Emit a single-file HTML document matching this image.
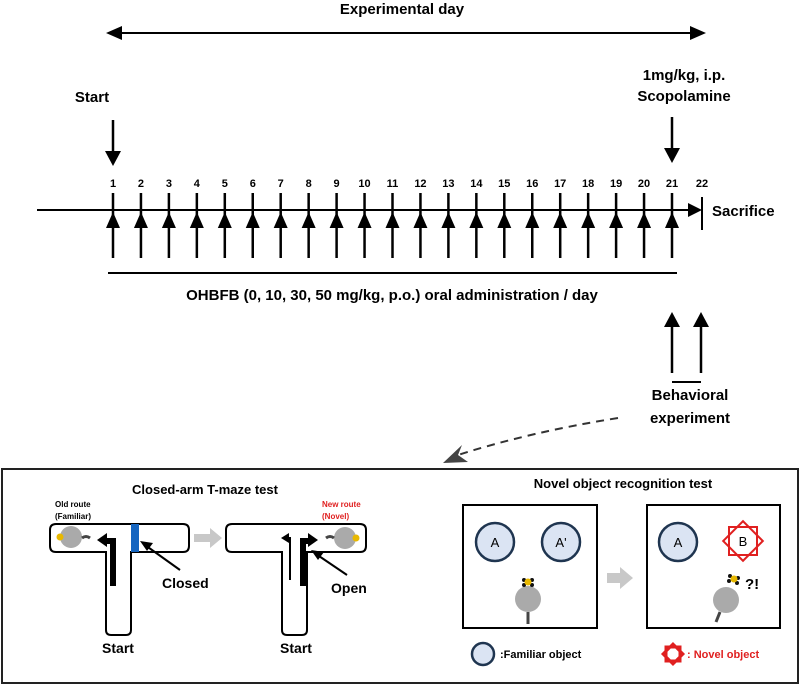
<!DOCTYPE html>
<html><head><style>
body{margin:0;background:#fff;}
svg{display:block;font-family:"Liberation Sans",Arial,sans-serif;font-weight:bold;}
</style></head><body>
<svg width="800" height="685" viewBox="0 0 800 685">
<!-- Experimental day -->
<text x="402" y="14" font-size="15" text-anchor="middle">Experimental day</text>
<line x1="118" y1="33" x2="694" y2="33" stroke="#000" stroke-width="2"/>
<path d="M106,33 L122,26 L122,40Z M706,33 L690,26 L690,40Z" fill="#000"/>
<text x="92" y="102" font-size="15" text-anchor="middle">Start</text>
<text x="684" y="80" font-size="15" text-anchor="middle">1mg/kg, i.p.</text>
<text x="684" y="101" font-size="15" text-anchor="middle">Scopolamine</text>
<line x1="113" y1="120" x2="113" y2="152" stroke="#000" stroke-width="2.5"/>
<path d="M105,151 L121,151 L113,166Z" fill="#000"/>
<line x1="672" y1="117" x2="672" y2="149" stroke="#000" stroke-width="2.5"/>
<path d="M664,148 L680,148 L672,163Z" fill="#000"/>
<!-- axis -->
<line x1="37" y1="210" x2="690" y2="210" stroke="#000" stroke-width="2"/>
<path d="M688,203 L702,210 L688,217Z" fill="#000"/>
<line x1="702" y1="197" x2="702" y2="230" stroke="#000" stroke-width="2"/>
<text x="712" y="216" font-size="15">Sacrifice</text>
<g id="ticks" font-size="11" text-anchor="middle"></g>
<line x1="108" y1="273" x2="677" y2="273" stroke="#000" stroke-width="2"/>
<text x="392" y="300" font-size="15" text-anchor="middle">OHBFB (0, 10, 30, 50 mg/kg, p.o.) oral administration / day</text>
<!-- behavioral -->
<line x1="672" y1="325" x2="672" y2="373" stroke="#000" stroke-width="2.5"/>
<path d="M664,327 L680,327 L672,312Z" fill="#000"/>
<line x1="701" y1="325" x2="701" y2="373" stroke="#000" stroke-width="2.5"/>
<path d="M693,327 L709,327 L701,312Z" fill="#000"/>
<line x1="672" y1="382" x2="701" y2="382" stroke="#000" stroke-width="2"/>
<text x="690" y="400" font-size="15" text-anchor="middle">Behavioral</text>
<text x="690" y="423" font-size="15" text-anchor="middle">experiment</text>
<path d="M618,418 Q530,432 458,455" fill="none" stroke="#333" stroke-width="2" stroke-dasharray="8,6"/>
<path d="M443,463 L462,445 L458,455 L468,462Z" fill="#444"/>
<!-- box -->
<rect x="2" y="469" width="796" height="214" fill="none" stroke="#222" stroke-width="2"/>
<text x="205" y="494" font-size="13" text-anchor="middle">Closed-arm T-maze test</text>
<text x="55" y="507" font-size="8">Old route</text>
<text x="55" y="519" font-size="8">(Familiar)</text>
<text x="322" y="507" font-size="8" fill="#e02020">New route</text>
<text x="322" y="519" font-size="8" fill="#e02020">(Novel)</text>
<path d="M56,524 H183 Q189,524 189,530 V546 Q189,552 183,552 H131 V630 Q131,635 126,635 H111 Q106,635 106,630 V552 H56 Q50,552 50,546 V530 Q50,524 56,524Z" fill="#fff" stroke="#000" stroke-width="2"/>
<rect x="131" y="524" width="8" height="28" fill="#1565c0"/>
<path d="M232,524 H360 Q366,524 366,530 V546 Q366,552 360,552 H307 V630 Q307,635 302,635 H287 Q282,635 282,630 V552 H232 Q226,552 226,546 V530 Q226,524 232,524Z" fill="#fff" stroke="#000" stroke-width="2"/>
<!-- T1 arrows -->
<path d="M113,586 V541 H104" fill="none" stroke="#000" stroke-width="6"/>
<path d="M107,533 L97,540 L107,547Z" fill="#000"/>
<line x1="180" y1="570" x2="145" y2="545" stroke="#000" stroke-width="2"/>
<path d="M140,541 L153,543 L147,551Z" fill="#000"/>
<text x="162" y="588" font-size="14">Closed</text>
<circle cx="71" cy="537" r="11" fill="#aaa"/>
<circle cx="60" cy="537" r="3.5" fill="#e8b800"/>
<path d="M82,538 q4,-3 8,0" stroke="#444" stroke-width="3" fill="none"/>
<text x="118" y="653" font-size="14" text-anchor="middle">Start</text>
<!-- T2 arrows -->
<path d="M303,586 V541 H310" fill="none" stroke="#000" stroke-width="6"/>
<path d="M308,533 L318,540 L308,547Z" fill="#000"/>
<path d="M290,580 V538 H286" fill="none" stroke="#000" stroke-width="2"/>
<path d="M289,533 L281,538 L289,543Z" fill="#000"/>
<line x1="347" y1="575" x2="316" y2="554" stroke="#000" stroke-width="2"/>
<path d="M311,550 L324,552 L318,560Z" fill="#000"/>
<text x="331" y="593" font-size="14">Open</text>
<circle cx="345" cy="538" r="11" fill="#aaa"/>
<circle cx="356" cy="538" r="3.5" fill="#e8b800"/>
<path d="M326,538 q4,-3 8,0" stroke="#444" stroke-width="3" fill="none"/>
<text x="296" y="653" font-size="14" text-anchor="middle">Start</text>
<path d="M194,534 H210 V528 L222,538 L210,548 V542 H194Z" fill="#c8c8c8"/>
<!-- NOR -->
<text x="623" y="488" font-size="13" text-anchor="middle">Novel object recognition test</text>
<rect x="463" y="505" width="134" height="123" fill="#fff" stroke="#000" stroke-width="2"/>
<rect x="647" y="505" width="133" height="123" fill="#fff" stroke="#000" stroke-width="2"/>
<g font-weight="normal" font-size="13" text-anchor="middle">
<circle cx="495" cy="542" r="19" fill="#dbe4f3" stroke="#1f3550" stroke-width="2.5"/><text x="495" y="547">A</text>
<circle cx="561" cy="542" r="19" fill="#dbe4f3" stroke="#1f3550" stroke-width="2.5"/><text x="561" y="547">A'</text>
<circle cx="678" cy="542" r="19" fill="#dbe4f3" stroke="#1f3550" stroke-width="2.5"/><text x="678" y="547">A</text>
<rect x="729" y="527" width="28" height="28" fill="none" stroke="#e02020" stroke-width="2"/>
<rect x="729" y="527" width="28" height="28" fill="none" stroke="#e02020" stroke-width="2" transform="rotate(45 743 541)"/>
<text x="743" y="546">B</text>
</g>
<path d="M607,573 H620 V567 L633,578 L620,589 V583 H607Z" fill="#c8c8c8"/>
<circle cx="528" cy="599" r="13" fill="#aaa"/>
<g fill="#111"><circle cx="524" cy="580" r="2"/><circle cx="532" cy="580" r="2"/><circle cx="524" cy="585" r="2"/><circle cx="532" cy="585" r="2"/></g>
<circle cx="528" cy="582" r="3.5" fill="#e8b800"/>
<path d="M528,612 v12" stroke="#444" stroke-width="3"/>
<circle cx="726" cy="600" r="13" fill="#aaa"/>
<g fill="#111"><circle cx="730" cy="576" r="2"/><circle cx="738" cy="578" r="2"/><circle cx="729" cy="581" r="2"/><circle cx="737" cy="583" r="2"/></g>
<circle cx="734" cy="579" r="3.5" fill="#e8b800"/>
<path d="M720,612 l-4,10" stroke="#444" stroke-width="3"/>
<text x="745" y="589" font-size="15">?!</text>
<circle cx="483" cy="654" r="11" fill="#dbe4f3" stroke="#1f3550" stroke-width="2.5"/>
<text x="500" y="658" font-size="11">:Familiar object</text>
<rect x="666" y="647" width="14" height="14" fill="none" stroke="#e02020" stroke-width="3"/>
<rect x="666" y="647" width="14" height="14" fill="none" stroke="#e02020" stroke-width="3" transform="rotate(45 673 654)"/>
<text x="687" y="658" font-size="11" fill="#e02020">: Novel object</text>
</svg>
<script>
var g=document.getElementById('ticks'),s='';
for(var i=0;i<21;i++){var x=113+i*27.95;
s+='<text x="'+x+'" y="187">'+(i+1)+'</text>';
s+='<line x1="'+x+'" y1="193" x2="'+x+'" y2="258" stroke="#000" stroke-width="2.5"/>';
s+='<path d="M'+(x-7)+',228 L'+(x+7)+',228 L'+x+',212Z" fill="#000"/>';}
s+='<text x="702" y="187">22</text>';
g.innerHTML=s;
</script>
</body></html>
